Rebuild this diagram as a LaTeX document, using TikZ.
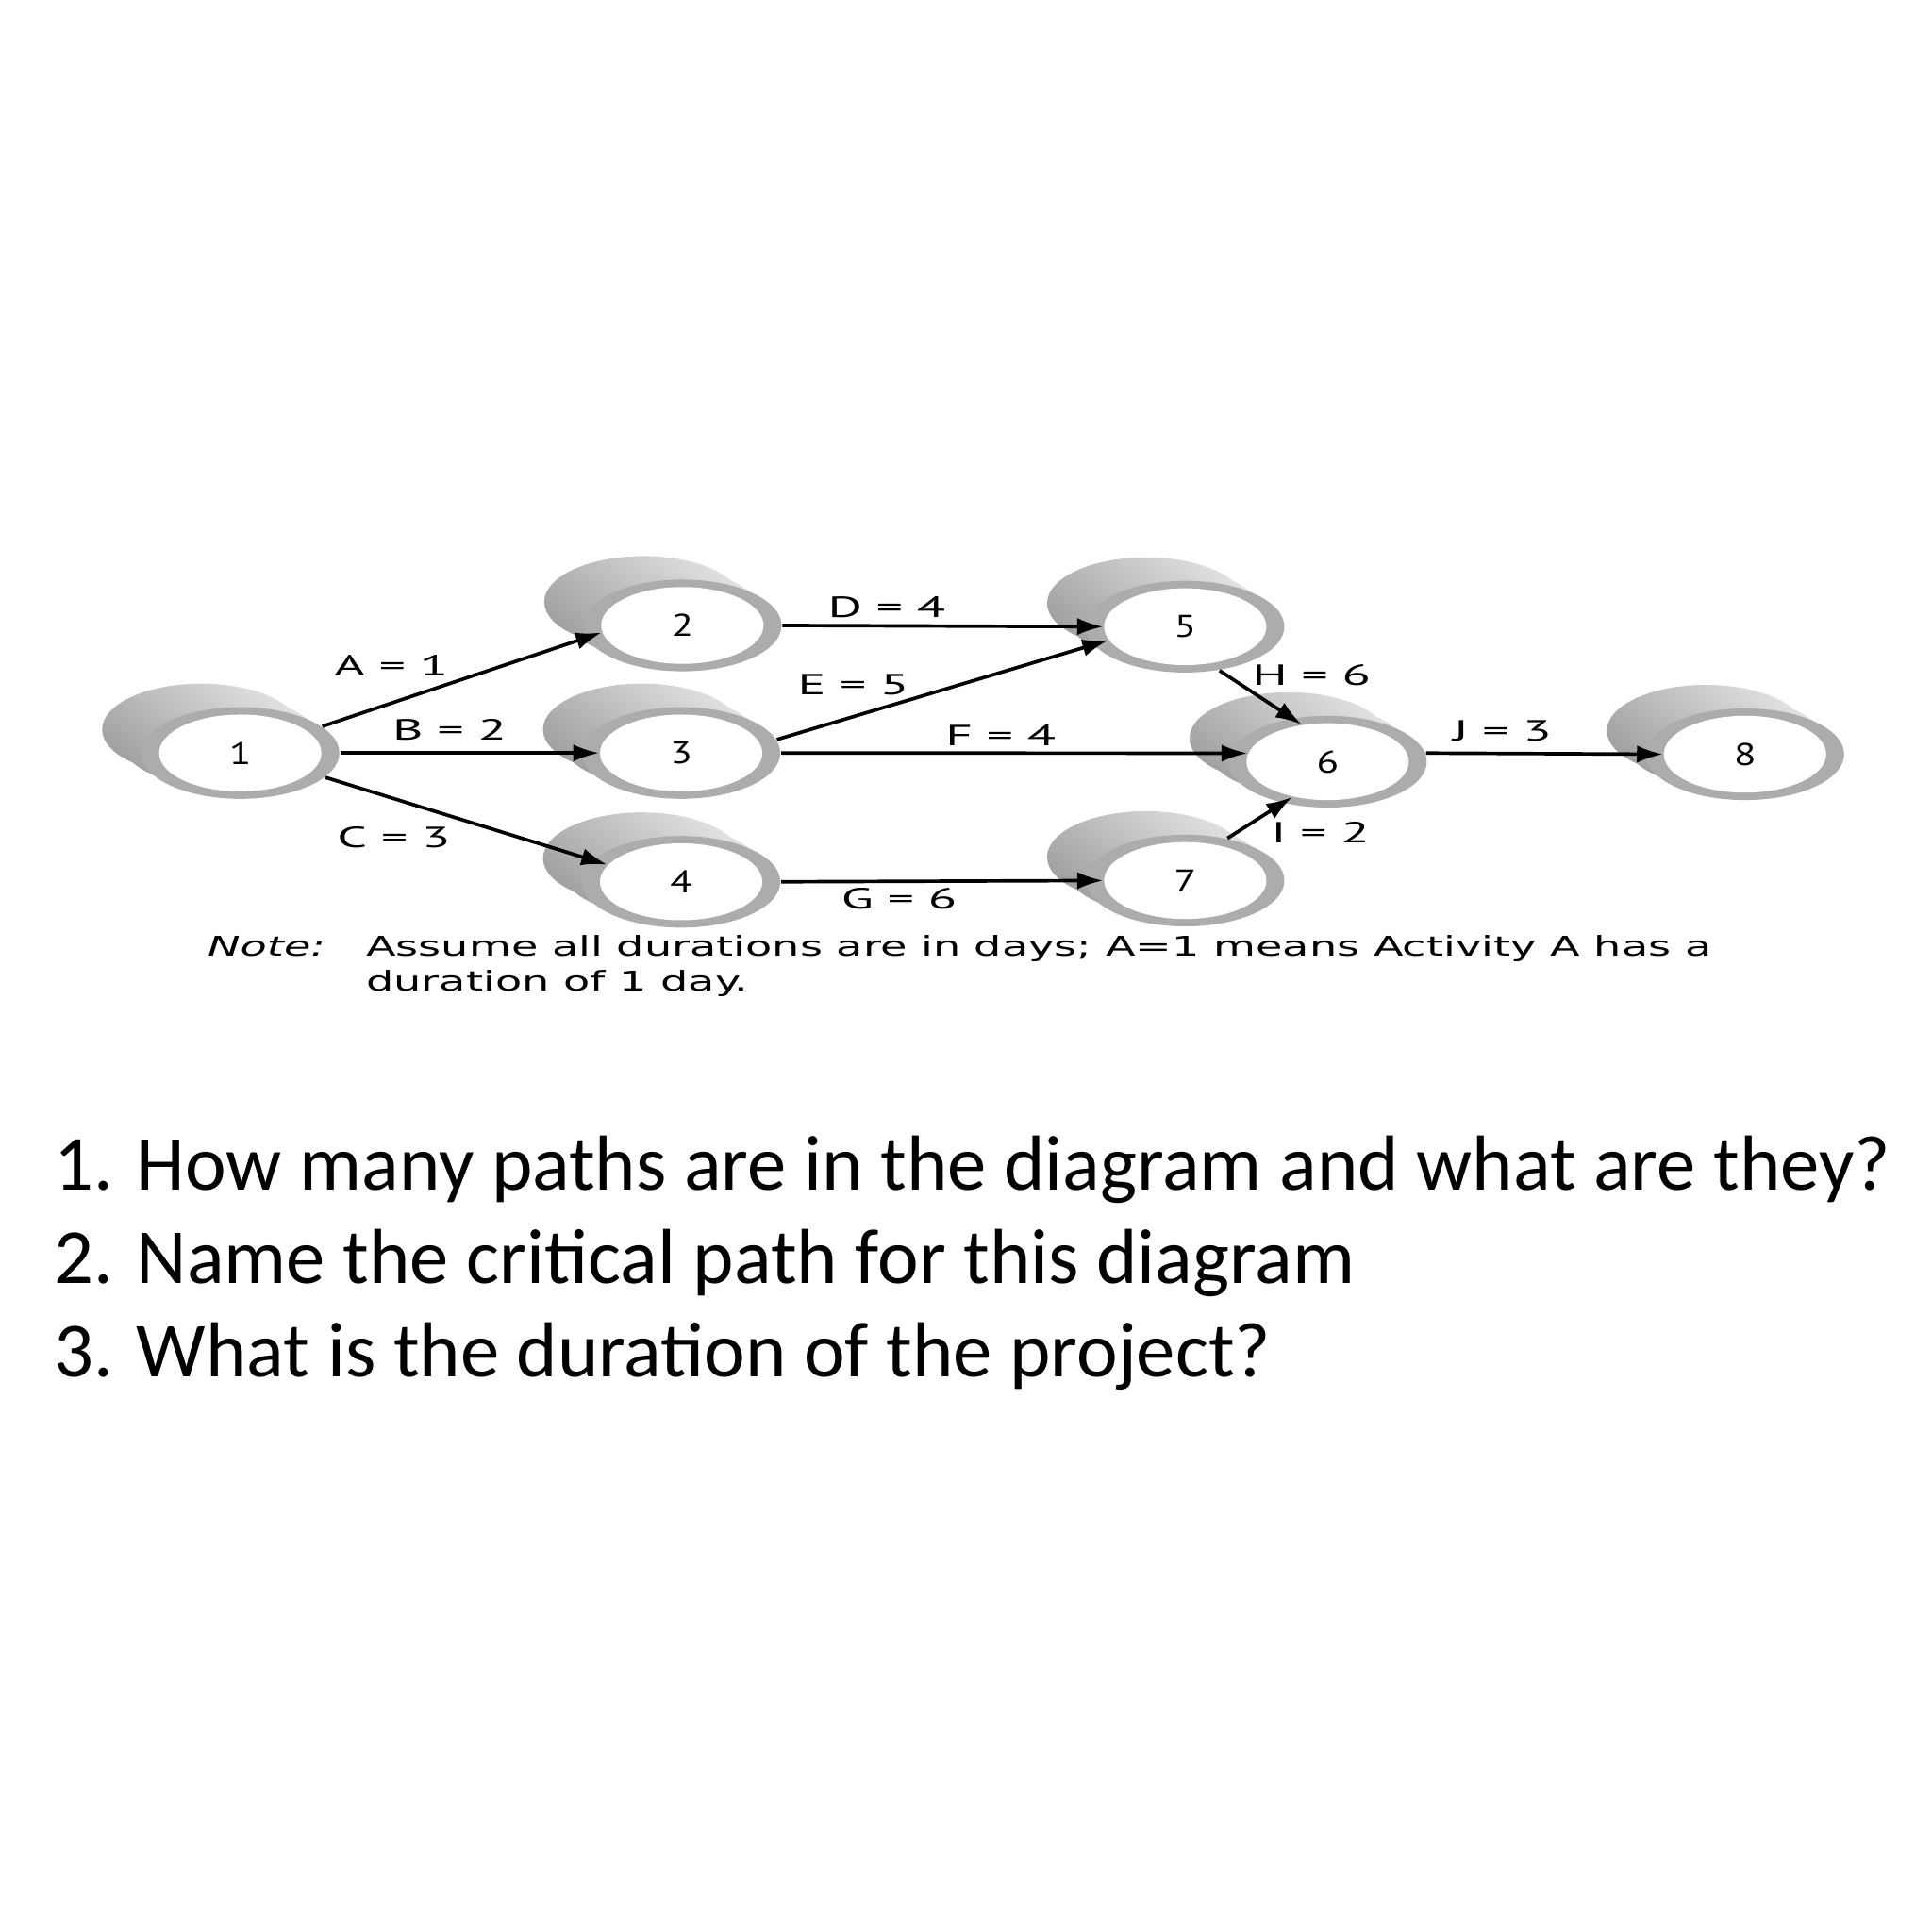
\documentclass[tikz,border=0pt]{standalone}
\usepackage{fontspec}
\setmainfont{Carlito}
\newfontfamily\notefont[FakeStretch=1.6]{DejaVu Sans}
\newfontfamily\actfont[FakeStretch=1.8]{PT Sans}
\newfontfamily\numfont[FakeStretch=1.3]{PT Sans}
\usetikzlibrary{arrows.meta, shapes.geometric}
\tikzset{
  ring/.style={ellipse, fill=gray!65, minimum width=1.6cm, minimum height=0.74cm, inner sep=0pt},
  event/.style={ellipse, fill=white, minimum width=1.31cm, minimum height=0.62cm, inner sep=0pt,
    font=\numfont\fontsize{7.2}{8}\selectfont},
  tube/.style={top color=gray!22, bottom color=gray!75, shading angle=-40},
  act/.style={-{Latex[length=0.21cm, width=0.14cm]}, line width=0.8pt},
  actlabel/.style={font=\actfont\fontsize{6.7}{8}\selectfont, inner sep=0pt},
  notelabel/.style={anchor=base west, inner sep=0pt, font=\notefont\fontsize{6.25}{7.5}\selectfont},
  question/.style={anchor=base west, inner sep=0pt, font=\fontsize{17.9}{21}\selectfont}
}
\newcommand{\eventnode}[3]{%
  \path[tube] ([shift={(-31.5,-19)}]#2) ellipse (0.8cm and 0.37cm)
              ([shift={(-16,-9.5)}]#2) ellipse (0.8cm and 0.37cm);
  \node[ring] (ring#1) at (#2) {};
  \node[event] (ev#1) at (#2) {#3};
}

\begin{document}
\begin{tikzpicture}[x=0.01cm, y=-0.01cm]
  \useasboundingbox (0,0) rectangle (1560,1560);

  \coordinate (P1) at (194,608);
  \coordinate (P2) at (551,505);
  \coordinate (P3) at (550,608);
  \coordinate (P4) at (550,712);
  \coordinate (P5) at (957,506);
  \coordinate (P6) at (1072,615);
  \coordinate (P7) at (957,711);
  \coordinate (P8) at (1409,609);

  \eventnode{1}{P1}{1}
  \eventnode{2}{P2}{2}
  \eventnode{3}{P3}{3}
  \eventnode{4}{P4}{4}
  \eventnode{5}{P5}{5}
  \eventnode{6}{P6}{6}
  \eventnode{7}{P7}{7}
  \eventnode{8}{P8}{8}

  \draw[act] (ring1.18) -- (ev2.185);
  \draw[act] (ring1.0) -- (ev3.180);
  \draw[act] (ring1.-16) -- (ev4.167);
  \draw[act] (ring2.0) -- (ev5.180);
  \draw[act] (ring3.8) -- (ev5.190);
  \draw[act] (ring3.0) -- (ev6.174);
  \draw[act] (ring4.0) -- (ev7.180);
  \draw[act] (ring5.-52) -- (ev6.125);
  \draw[act] (ring7.45) -- (ev6.-135);
  \draw[act] (ring6.5) -- (ev8.180);

  \node[actlabel] (lA) at (316,537) {A = 1};
  \node[actlabel] (lB) at (363,589) {B = 2};
  \node[actlabel] (lC) at (318,676) {C = 3};
  \node[actlabel] (lD) at (716,490) {D = 4};
  \node[actlabel] (lE) at (689,553) {E = 5};
  \node[actlabel] (lF) at (808,594) {F = 4};
  \node[actlabel] (lG) at (726,726) {G = 6};
  \node[actlabel] (lH) at (1059,545) {H = 6};
  \node[actlabel] (lI) at (1066,672) {I = 2};
  \node[actlabel] (lJ) at (1213,590) {J = 3};

  \node[notelabel] (note) at (167,772) {\itshape Note:};
  \node[notelabel] (note1) at (295,772) {Assume all durations are in days; A=1 means Activity A has a};
  \node[notelabel] (note2) at (295,800) {duration of 1 day.};

  \node[question] (q1) at (43,961) {1. How many paths are in the diagram and what are they?};
  \node[question] (q2) at (43,1036) {2. Name the critical path for this diagram};
  \node[question] (q3) at (43,1112) {3. What is the duration of the project?};
\end{tikzpicture}
\end{document}
